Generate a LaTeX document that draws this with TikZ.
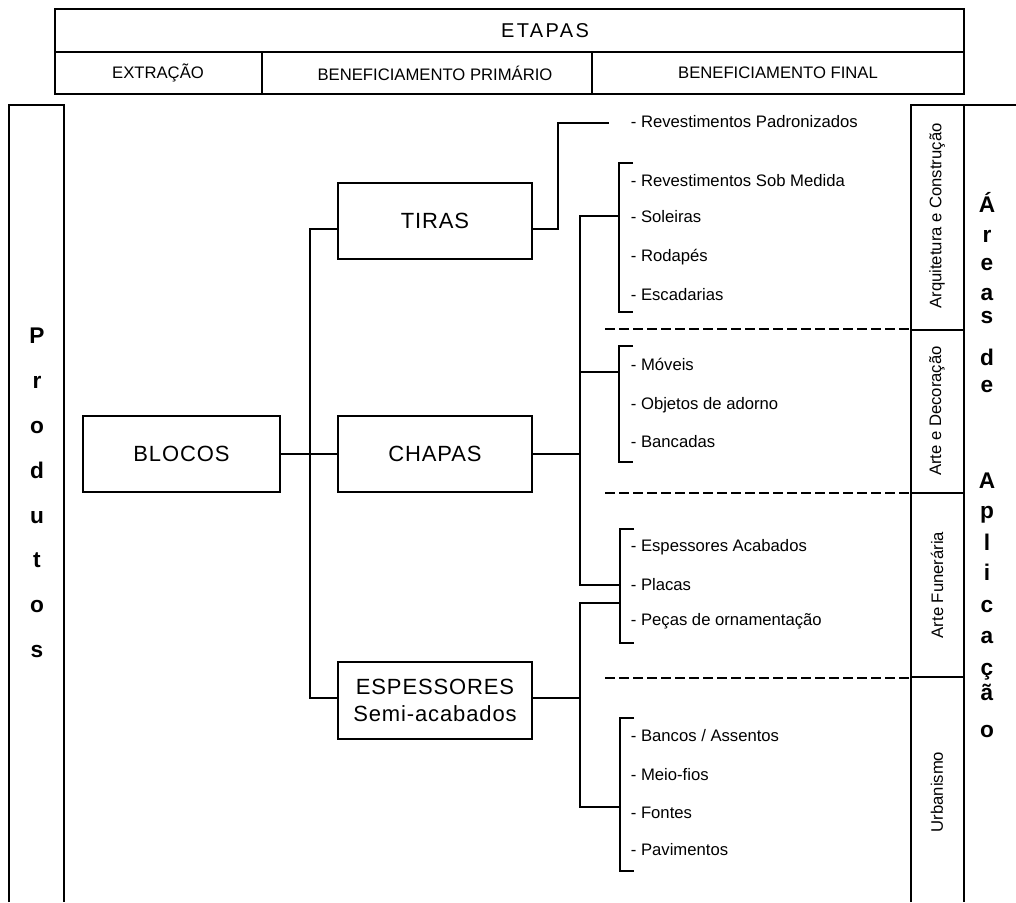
\documentclass[tikz,border=0pt]{standalone}
\usepackage{fontspec}
\setmainfont{Liberation Sans}
\newfontfamily\trackfont[LetterSpace=12]{Liberation Sans}
\newfontfamily\boxfont[LetterSpace=4]{Liberation Sans}
\begin{document}
\begin{tikzpicture}[x=0.75pt,y=-0.75pt,line width=1.3pt,line join=miter,
  box/.style={draw,line width=1.3pt,minimum width=145.5pt,minimum height=57pt,inner sep=0pt,align=center,
    font=\fontsize{16.5}{21}\selectfont\boxfont},
  item/.style={anchor=base west,inner sep=0pt,font=\fontsize{12.5}{14}\selectfont},
  hdr/.style={inner sep=0pt,font=\fontsize{12.5}{14}\selectfont},
  vlab/.style={rotate=90,inner sep=0pt,font=\fontsize{12.5}{14}\selectfont},
  big/.style={anchor=base,inner sep=0pt,font=\fontsize{17}{20}\selectfont\bfseries},
  sep/.style={line width=2pt,dash pattern=on 7.5pt off 3pt}]
\useasboundingbox (0,0) rectangle (1016,902);
% header
\draw (55,9) rectangle (964,94);
\draw (55,52) -- (964,52);
\draw (262,52) -- (262,94);
\draw (592,52) -- (592,94);
\node[hdr,font=\fontsize{15}{18}\selectfont\trackfont] (etapas) at (545,31) {ETAPAS};
\node[hdr] (extr) at (158,73) {EXTRAÇÃO};
\node[hdr] (bprim) at (435,73) {BENEFICIAMENTO PRIMÁRIO};
\node[hdr] (bfin) at (778,73) {BENEFICIAMENTO FINAL};
% left column
\draw (9,902) -- (9,105) -- (64,105) -- (64,902);
\foreach \l/\b in {P/343,r/388,o/433,d/478,u/523,t/567,o/612,s/657}
  \node[big] at (37,\b) {\l};
% right columns
\draw (911,902) -- (911,105) -- (1016,105);
\draw (964,105) -- (964,902);
\draw (911,330) -- (964,330);
\draw (911,493) -- (964,493);
\draw (911,677) -- (964,677);
\node[vlab] (arq) at (937,216) {Arquitetura e Construção};
\node[vlab] (arte) at (937,411) {Arte e Decoração};
\node[vlab] (fun) at (937,585) {Arte Funerária};
\node[vlab] (urb) at (937,792) {Urbanismo};
\foreach \l/\b in {Á/213,r/243,e/270,a/300,s/323,d/365,e/392,A/488,p/518,l/550,i/580,c/612,a/643,ç/675,ã/700,o/737}
  \node[big] at (987,\b) {\l};
% boxes
\node[box,minimum width=147.75pt] (blocos) at (181.5,454) {BLOCOS};
\node[box] (tiras) at (435,221) {TIRAS};
\node[box] (chapas) at (435,454) {CHAPAS};
\node[box,minimum height=57.75pt] (esp) at (435,700.5) {ESPESSORES\\[-1pt]Semi-acabados};
% trunk 1
\coordinate (t1) at (310,229);
\coordinate (t2) at (310,698);
\draw (tiras.west |- t1) -- (t1) -- (t2) -- (esp.west |- t2);
\draw (blocos.east) -- (chapas.west);
% items
\node[item] (rp) at (630,128) {- Revestimentos Padronizados};
\node[item] (rs) at (630,187) {- Revestimentos Sob Medida};
\node[item] (sol) at (630,223) {- Soleiras};
\node[item] (rod) at (630,262) {- Rodapés};
\node[item] (esc) at (630,300) {- Escadarias};
\node[item] (mov) at (630,370) {- Móveis};
\node[item] (obj) at (630,409) {- Objetos de adorno};
\node[item] (ban) at (630,447) {- Bancadas};
\node[item] (ea) at (630,551) {- Espessores Acabados};
\node[item] (pla) at (630,590) {- Placas};
\node[item] (pec) at (630,625) {- Peças de ornamentação};
\node[item] (bas) at (630,741) {- Bancos / Assentos};
\node[item] (mf) at (630,780) {- Meio-fios};
\node[item] (fon) at (630,818) {- Fontes};
\node[item] (pav) at (630,855) {- Pavimentos};
% tiras -> revestimentos padronizados
\coordinate (rpk) at (558,123);
\coordinate (rpe) at (609,123);
\draw (tiras.east |- t1) -| (rpk) -- (rpe);
% brackets
\draw (633,163) -- (619,163) -- (619,312) -- (633,312);
\draw (633,346) -- (619,346) -- (619,462) -- (633,462);
\draw (634,529) -- (620,529) -- (620,643) -- (634,643);
\draw (634,718) -- (620,718) -- (620,871) -- (634,871);
% chapas trunk
\coordinate (c1) at (580,216);
\coordinate (c2) at (580,585);
\draw (chapas.east) -- (chapas.east -| c1);
\draw (619,216) -- (c1) -- (c2) -- (620,585);
\draw (580,372) -- (619,372);
% espessores trunk
\coordinate (e1) at (580,603);
\coordinate (e2) at (580,807);
\draw (esp.east |- t2) -- (e1 |- t2);
\draw (620,603) -- (e1) -- (e2) -- (620,807);
% dashed separators
\draw[sep] (605,329) -- (911,329);
\draw[sep] (605,493) -- (911,493);
\draw[sep] (605,678) -- (911,678);
\end{tikzpicture}
\end{document}
